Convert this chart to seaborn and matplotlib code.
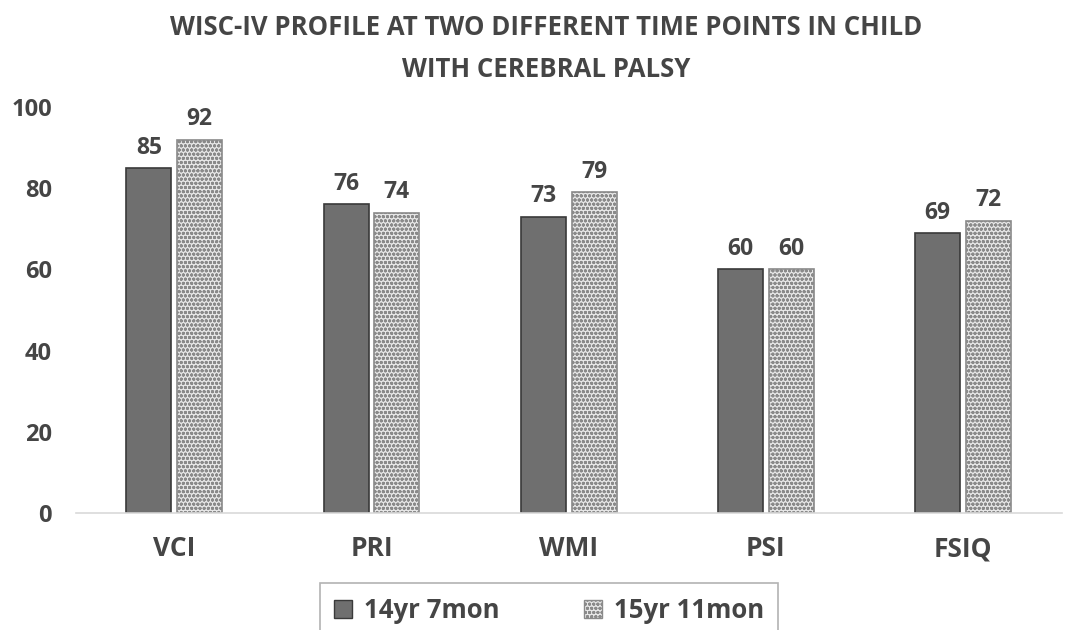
import matplotlib
matplotlib.use("Agg")
import matplotlib.pyplot as plt
import seaborn as sns
import pandas as pd
from matplotlib.patches import Patch

categories = ["VCI", "PRI", "WMI", "PSI", "FSIQ"]
series_names = ["14yr 7mon", "15yr 11mon"]
values_t1 = [85, 76, 73, 60, 69]
values_t2 = [92, 74, 79, 60, 72]
yticks = [0, 20, 40, 60, 80, 100]
title = "WISC-IV PROFILE AT TWO DIFFERENT TIME POINTS IN CHILD\nWITH CEREBRAL PALSY"

df = pd.DataFrame({
    "cat": categories * 2,
    "series": [series_names[0]] * 5 + [series_names[1]] * 5,
    "value": values_t1 + values_t2,
})

sns.set_theme(style="white")
plt.rcParams['font.family'] = ['Open Sans', 'DejaVu Sans']
plt.rcParams['hatch.color'] = '#9a9a9a'
plt.rcParams['hatch.linewidth'] = 1.0

txt = '#454545'
fig = plt.figure(figsize=(10.66, 6.3), dpi=100)
ax = fig.add_axes([0.071, 0.186, 0.925, 0.644])

sns.barplot(data=df, x="cat", y="value", hue="series", order=categories,
            hue_order=series_names, palette=['#6f6f6f', '#e6e6e6'],
            width=0.515, gap=0.11, ax=ax, legend=False, saturation=1)

n = len(categories)
for i, p in enumerate(ax.patches[:2 * n]):
    if i < n:
        p.set_edgecolor('#3a3a3a')
        p.set_linewidth(1.2)
    else:
        p.set_edgecolor('#8a8a8a')
        p.set_linewidth(1.2)
        p.set_hatch('oooo')

for c in ax.containers:
    ax.bar_label(c, padding=6, fontsize=16.5, fontweight='bold', color=txt)

ax.set_ylim(0, 100)
ax.set_yticks(yticks)
ax.set_xlabel("")
ax.set_ylabel("")
ax.tick_params(axis='y', labelsize=17, colors=txt, pad=17, length=0)
ax.tick_params(axis='x', labelsize=19, colors=txt, pad=16, length=0)
for lbl in ax.get_xticklabels() + ax.get_yticklabels():
    lbl.set_fontweight('bold')
for s in ['top', 'right', 'left']:
    ax.spines[s].set_visible(False)
ax.spines['bottom'].set_color('#d9d9d9')
ax.spines['bottom'].set_linewidth(1.2)

fig.text(0.512, 0.923, title, ha='center', va='center', fontsize=18.5,
         fontweight='bold', color=txt, linespacing=1.7)

handles = [Patch(facecolor='#6f6f6f', edgecolor='#3a3a3a', label=series_names[0]),
           Patch(facecolor='#e6e6e6', edgecolor='#8a8a8a', hatch='oooo', label=series_names[1])]
leg = fig.legend(handles=handles, loc='upper left',
                 bbox_to_anchor=(320 / 1066, 0.0746, 458 / 1066, 0.0), mode='expand', ncol=2,
                 frameon=True, fontsize=18.5, handlelength=0.7, handleheight=0.7,
                 handletextpad=0.45, columnspacing=1.3, borderpad=0.55,
                 borderaxespad=0, fancybox=False)
leg.get_frame().set_edgecolor('#a0a0a0')
leg.get_frame().set_linewidth(1.2)
for t in leg.get_texts():
    t.set_fontweight('bold')
    t.set_color(txt)

fig.savefig("out.png", dpi=100)
